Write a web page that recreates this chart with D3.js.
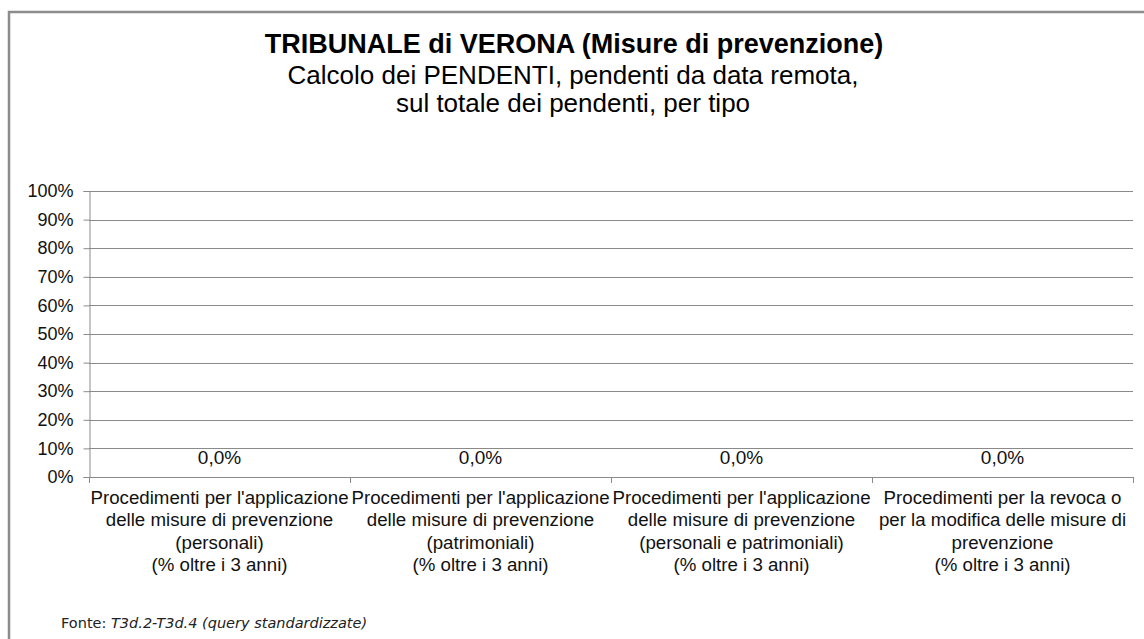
<!DOCTYPE html>
<html>
<head>
<meta charset="utf-8">
<title>TRIBUNALE di VERONA</title>
<script src="https://d3js.org/d3.v7.min.js"></script>
<style>
  body { margin: 0; background: #fff; }
  svg { display: block; }
</style>
</head>
<body>
<script>
// data
const categories = [
  ["Procedimenti per l'applicazione", "delle misure di prevenzione", "(personali)", "(% oltre i 3 anni)"],
  ["Procedimenti per l'applicazione", "delle misure di prevenzione", "(patrimoniali)", "(% oltre i 3 anni)"],
  ["Procedimenti per l'applicazione", "delle misure di prevenzione", "(personali e patrimoniali)", "(% oltre i 3 anni)"],
  ["Procedimenti per la revoca o", "per la modifica delle misure di", "prevenzione", "(% oltre i 3 anni)"]
];
const values = [0, 0, 0, 0];
const yTicks = [0, 0.1, 0.2, 0.3, 0.4, 0.5, 0.6, 0.7, 0.8, 0.9, 1];

const W = 1144, H = 639;
const plot = {left: 89, right: 1133, top: 191, bottom: 477};

const svg = d3.select("body").append("svg")
    .attr("width", W).attr("height", H)
    .style("font-family", "'Liberation Sans', Arial, sans-serif");

// chart frame
svg.append("path")
    .attr("d", `M9,${H} V12 H${W}`)
    .attr("fill", "none")
    .attr("stroke", "#8c8c8c")
    .attr("stroke-width", 2.5);

// titles
svg.append("text")
    .attr("x", 574).attr("y", 53)
    .attr("text-anchor", "middle")
    .style("font-size", "27px").style("font-weight", "bold")
    .text("TRIBUNALE di VERONA (Misure di prevenzione)");
svg.append("text")
    .attr("x", 573).attr("y", 84)
    .attr("text-anchor", "middle")
    .style("font-size", "26px")
    .text("Calcolo dei PENDENTI, pendenti da data remota,");
svg.append("text")
    .attr("x", 573).attr("y", 112)
    .attr("text-anchor", "middle")
    .style("font-size", "26px")
    .text("sul totale dei pendenti, per tipo");

const x = d3.scaleBand()
    .domain(d3.range(categories.length))
    .range([plot.left, plot.right]);

const y = d3.scaleLinear()
    .domain([0, 1])
    .range([plot.bottom, plot.top]);

// gridlines
svg.append("g")
    .selectAll("line")
    .data(yTicks)
    .join("line")
    .attr("x1", plot.left).attr("x2", plot.right)
    .attr("y1", d => Math.round(y(d)) + 0.5)
    .attr("y2", d => Math.round(y(d)) + 0.5)
    .attr("stroke", "#8a8a8a")
    .attr("stroke-width", 1);

// y axis
const yAxis = svg.append("g")
    .attr("transform", `translate(${plot.left + 0.5},0)`)
    .call(d3.axisLeft(y).tickValues(yTicks).tickFormat(d3.format(".0%")).tickSize(6).tickPadding(10));
yAxis.selectAll("text")
    .style("font-size", "18px")
    .style("font-family", "'Liberation Sans', Arial, sans-serif")
    .attr("fill", "#111");
yAxis.selectAll("line").attr("stroke", "#8a8a8a");
yAxis.select(".domain").attr("stroke", "#8a8a8a");

// x axis line + category ticks
svg.append("line")
    .attr("x1", plot.left).attr("x2", plot.right)
    .attr("y1", Math.round(y(0)) + 0.5).attr("y2", Math.round(y(0)) + 0.5)
    .attr("stroke", "#8a8a8a");
svg.append("g")
    .selectAll("line")
    .data(d3.range(categories.length + 1))
    .join("line")
    .attr("x1", i => Math.round(plot.left + i * x.step()) + 0.5)
    .attr("x2", i => Math.round(plot.left + i * x.step()) + 0.5)
    .attr("y1", Math.round(y(0)))
    .attr("y2", Math.round(y(0)) + 6)
    .attr("stroke", "#8a8a8a");

// bars (zero height)
svg.append("g")
    .selectAll("rect")
    .data(values)
    .join("rect")
    .attr("x", (d, i) => x(i) + x.bandwidth() * 0.25)
    .attr("width", x.bandwidth() * 0.5)
    .attr("y", d => y(d))
    .attr("height", d => y(0) - y(d))
    .attr("fill", "#4f81bd");

// data labels
svg.append("g")
    .selectAll("text")
    .data(values)
    .join("text")
    .attr("x", (d, i) => x(i) + x.bandwidth() / 2)
    .attr("y", d => y(d) - 13)
    .attr("text-anchor", "middle")
    .style("font-size", "19px")
    .attr("fill", "#111")
    .text(d => d3.format(".1f")(d * 100).replace(".", ",") + "%");

// category labels
svg.append("g")
    .selectAll("text")
    .data(categories)
    .join("text")
    .attr("text-anchor", "middle")
    .style("font-size", "18.7px")
    .attr("fill", "#111")
    .each(function(lines, i) {
      d3.select(this).selectAll("tspan")
        .data(lines)
        .join("tspan")
        .attr("x", x(i) + x.bandwidth() / 2)
        .attr("y", (l, j) => 504 + j * 22.3)
        .text(l => l);
    });

// source note
const src = svg.append("text")
    .attr("x", 61).attr("y", 628)
    .style("font-family", "'DejaVu Sans', Verdana, sans-serif")
    .style("font-size", "14.5px")
    .attr("fill", "#222");
src.append("tspan").text("Fonte: ");
src.append("tspan").style("font-style", "italic").text("T3d.2-T3d.4 (query standardizzate)");
</script>
</body>
</html>
